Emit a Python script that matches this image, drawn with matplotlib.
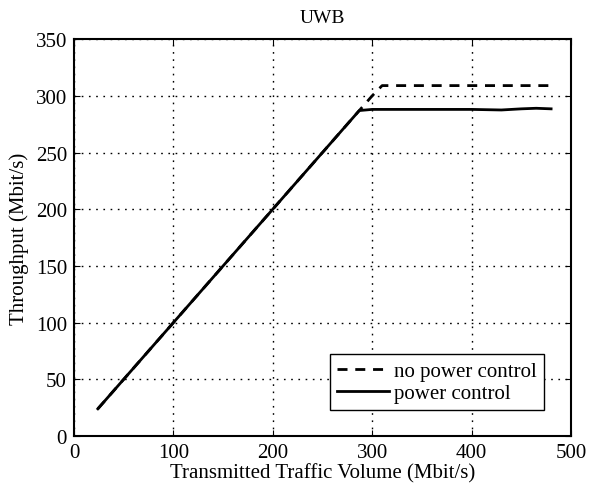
import matplotlib.pyplot as plt
import numpy as np

plt.rcParams['font.family'] = ['Liberation Serif', 'DejaVu Serif']

# traffic volume (Mbit/s) and throughput (Mbit/s)
x_pc = [24, 100, 200, 287, 300, 350, 400, 430, 450, 465, 480]
y_pc = [24, 100, 200, 287, 288, 288, 288, 287.5, 288.5, 289, 288.5]

x_nopc = [24, 100, 200, 287, 300, 310, 350, 400, 450, 480]
y_nopc = [24, 100, 200, 287, 300, 309, 309, 309, 309, 309]

fig = plt.figure(figsize=(5.92, 4.89), dpi=100)
ax = fig.add_axes([0.125, 0.1063, 0.8395, 0.8117])

ax.plot(x_nopc, y_nopc, 'k--', lw=2.0, dashes=(3.6, 2.8), label='no power control')
ax.plot(x_pc, y_pc, 'k-', lw=2.0, label='power control')

ax.set_xlim(0, 500)
ax.set_ylim(0, 350)
ax.set_xticks(np.arange(0, 501, 100))
ax.set_yticks(np.arange(0, 351, 50))
ax.grid(True, color='k', linestyle=(0, (1.2, 4)), linewidth=1.0)
ax.tick_params(direction='in', labelsize=15, length=4, top=True, right=True)
ax.tick_params(axis='x', pad=5)
ax.tick_params(axis='y', pad=5)
for s in ax.spines.values():
    s.set_linewidth(1.5)

ax.set_title('UWB', fontsize=14, pad=12)
ax.set_xlabel('Transmitted Traffic Volume (Mbit/s)', fontsize=15, labelpad=1)
ax.set_ylabel('Throughput (Mbit/s)', fontsize=15, labelpad=5)

leg = ax.legend(loc='lower right', bbox_to_anchor=(0.945, 0.065), fontsize=15,
                fancybox=False, edgecolor='k', framealpha=1,
                handlelength=2.5, borderpad=0.35, borderaxespad=0,
                labelspacing=0.1, handletextpad=0.2)
leg.get_frame().set_linewidth(1.0)

fig.savefig('out.png', dpi=100)
